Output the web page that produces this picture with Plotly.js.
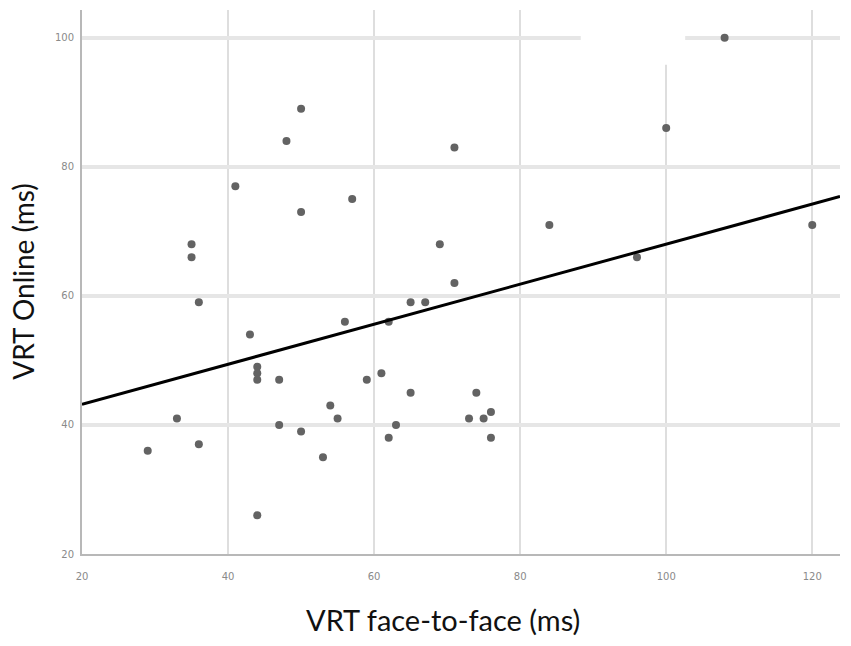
<!DOCTYPE html>
<html>
<head>
<meta charset="utf-8">
<script src="https://cdn.plot.ly/plotly-3.0.1.min.js"></script>
<style>
  html, body { margin: 0; padding: 0; background: #fff; }
  #plot { width: 851px; height: 646px; }
</style>
</head>
<body>
<div id="plot"></div>
<script>
// values
var faceToFace = [50, 48, 41, 57, 50, 35, 35, 36, 43, 56,
                  44, 44, 44, 47, 59, 54, 55, 33, 47, 50,
                  29, 36, 53, 44, 61, 71, 84, 69, 71, 65,
                  67, 62, 65, 74, 76, 75, 73, 63, 62, 76,
                  108, 100, 120, 96];
var online = [89, 84, 77, 75, 73, 68, 66, 59, 54, 56,
              49, 48, 47, 47, 47, 43, 41, 41, 40, 39,
              36, 37, 35, 26, 48, 83, 71, 68, 62, 59,
              59, 56, 45, 45, 42, 41, 41, 40, 38, 38,
              100, 86, 71, 66];

// fit line ends, as drawn
var fitX = [20, 123.8];
var fitY = [43.2, 75.4];

var xTicks = [20, 40, 60, 80, 100, 120];
var yTicks = [20, 40, 60, 80, 100];

var points = {
  x: faceToFace,
  y: online,
  type: "scatter",
  mode: "markers",
  marker: { size: 8, color: "#636363" },
  hoverinfo: "x+y"
};

var fit = {
  x: fitX,
  y: fitY,
  type: "scatter",
  mode: "lines",
  line: { color: "#000", width: 3 },
  hoverinfo: "skip"
};

var layout = {
  width: 851,
  height: 646,
  showlegend: false,
  paper_bgcolor: "#fff",
  plot_bgcolor: "#fff",
  margin: { l: 82, r: 11, t: 10, b: 92 },
  xaxis: {
    range: [20, 123.8],
    tickvals: xTicks,
    ticktext: xTicks.map(String),
    showgrid: true,
    gridcolor: "#dedede",
    gridwidth: 2,
    zeroline: false,
    showline: true,
    linecolor: "#b8b8b8",
    linewidth: 2,
    ticks: "",
    ticklabelstandoff: 12,
    tickfont: { family: "DejaVu Sans", size: 10, color: "#8a8a8a" }
  },
  yaxis: {
    range: [20, 104.3],
    tickvals: yTicks,
    ticktext: yTicks.map(String),
    showgrid: true,
    gridcolor: "#e6e6e6",
    gridwidth: 4,
    zeroline: false,
    showline: true,
    linecolor: "#b8b8b8",
    linewidth: 2,
    ticks: "",
    ticklabelstandoff: 4,
    tickfont: { family: "DejaVu Sans", size: 10, color: "#8a8a8a" }
  },
  // axis titles placed by hand (x title sits left of centre in the original)
  annotations: [
    { text: "VRT face-to-face (ms)", xref: "paper", yref: "paper",
      x: 0.476, y: -0.121, xanchor: "center", yanchor: "middle",
      showarrow: false, font: { family: "Lato", size: 29, color: "#111" } },
    { text: "VRT Online (ms)", xref: "paper", yref: "paper",
      x: -0.078, y: 0.502, xanchor: "center", yanchor: "middle",
      textangle: -90, showarrow: false,
      font: { family: "Lato", size: 28, color: "#111" } }
  ],
  shapes: [
    // blank patch over the grid, top right
    { type: "rect", xref: "x", yref: "y", layer: "between",
      x0: 88.3, x1: 102.6, y0: 95.8, y1: 104.3,
      fillcolor: "#fff", line: { width: 0 } }
  ]
};

Plotly.newPlot("plot", [points, fit], layout, { displayModeBar: false, staticPlot: true });
</script>
</body>
</html>
